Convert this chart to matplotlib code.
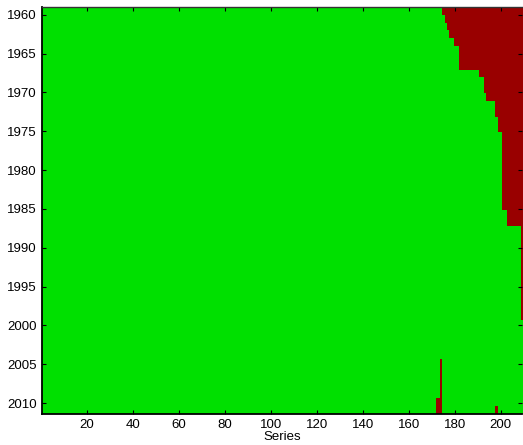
import numpy as np
import matplotlib
matplotlib.use("Agg")
import matplotlib.pyplot as plt
from matplotlib.colors import ListedColormap

plt.rcParams['font.family'] = ['Liberation Sans', 'DejaVu Sans']

years = list(range(1960, 2012))
n_series = 209

# first series with no data, per year, for the late-starting series (1960-1999)
first_missing = [175, 176, 177, 178, 180, 182, 182, 182, 191, 193,
                 193, 194, 198, 198, 199, 199, 201, 201, 201, 201,
                 201, 201, 201, 201, 201, 201, 203, 203, 209, 209,
                 209, 209, 209, 209, 209, 209, 209, 209, 209, 209]

# series that stop reporting near the end: (series, first missing year, last missing year)
late_gaps = [(172, 2010, 2011), (173, 2010, 2011), (174, 2005, 2011), (198, 2011, 2011)]

# 0 = available, 1 = missing
missing = np.zeros((len(years), n_series))
for i, col in enumerate(first_missing):
    missing[i, col - 1:] = 1
for s, y0, y1 in late_gaps:
    missing[years.index(y0):years.index(y1) + 1, s - 1] = 1

cmap = ListedColormap(['#00e000', '#990000'])

fig = plt.figure(figsize=(5.23, 4.45), dpi=100)
ax = fig.add_axes([0.080, 0.0697, 0.919, 0.9146])
ax.imshow(missing, cmap=cmap, vmin=0, vmax=1, aspect='auto', interpolation='nearest',
          extent=(0.5, n_series + 0.5, 2011.4, 1959.0))
ax.set_xlim(0.5, n_series + 0.5)
ax.set_ylim(2011.4, 1959.0)

ax.set_xticks(range(20, 201, 20))
ax.set_yticks(range(1960, 2011, 5))
ax.tick_params(direction='in', length=3, width=0.8, labelsize=9.5,
               top=True, right=True, pad=3.5)
ax.set_xlabel('Series', fontsize=9.5, labelpad=0)

for side in ['left', 'bottom']:
    ax.spines[side].set_linewidth(1.3)
ax.spines['top'].set_linewidth(1.0)
ax.spines['top'].set_color('#333333')
# right edge sits on the figure border, keep only its ticks
ax.spines['right'].set_visible(False)

fig.savefig('out.png', dpi=100)
